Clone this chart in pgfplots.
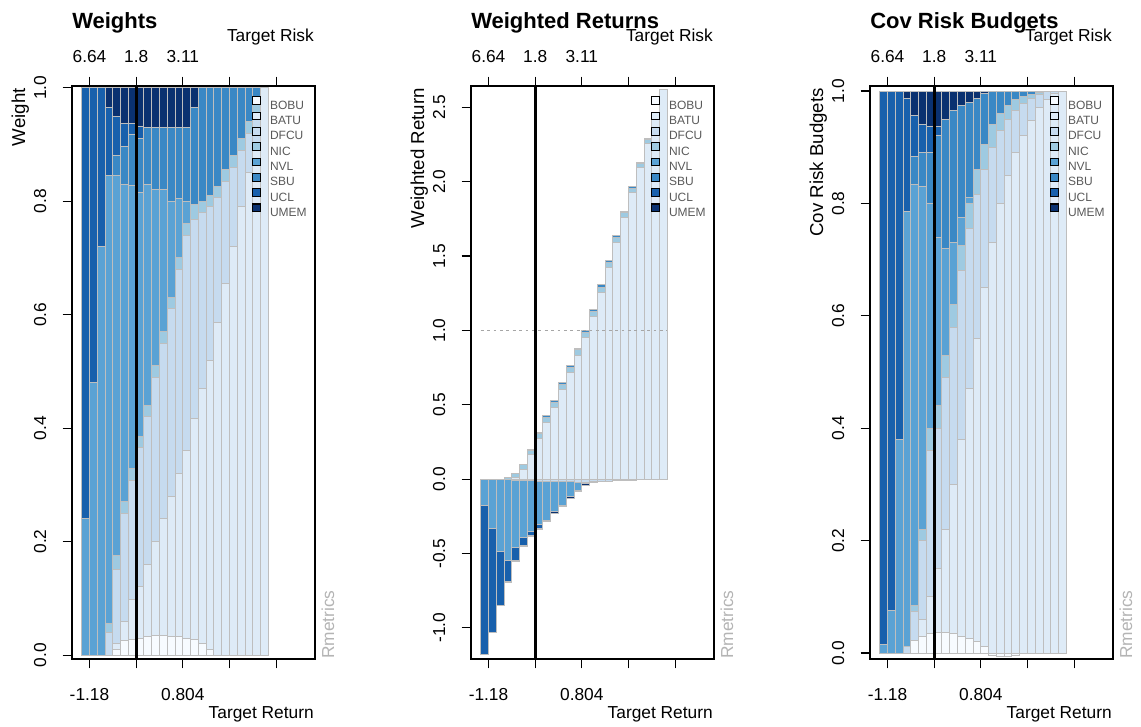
\documentclass[border=0pt]{standalone}
\usepackage{fontspec}
\setmainfont{Liberation Sans}
\usepackage{pgfplots}
\usepackage{pgfplotstable}
\pgfplotsset{compat=1.18}

\definecolor{cBOBU}{HTML}{F7FBFF}
\definecolor{cBATU}{HTML}{DEEBF7}
\definecolor{cDFCU}{HTML}{C6DBEF}
\definecolor{cNIC}{HTML}{9ECAE1}
\definecolor{cNVL}{HTML}{5AA2D4}
\definecolor{cSBU}{HTML}{3A88C5}
\definecolor{cUCL}{HTML}{1860AC}
\definecolor{cUMEM}{HTML}{0A3170}
\definecolor{barb}{HTML}{BEBEBE}
\definecolor{rmet}{HTML}{B4B4B4}

\newcommand\T[4][]{\node[#1] at ({(#2)*0.75pt},{-(#3)*0.75pt}) {#4};}
\newcommand\tf{\fontsize{13}{15}\selectfont}
\newcommand\ttl{\bfseries\fontsize{16.5}{18}\selectfont}
\newcommand\ylf{\fontsize{14}{16}\selectfont}
\newcommand\YT[3]{\T[rotate=90,anchor=base,inner sep=0pt,font=\tf]{#1}{#2}{#3}}
\newcommand\XT[3]{\T[anchor=base,inner sep=0pt,font=\tf]{#1}{#2}{#3}}

\pgfplotsset{
  legimg/.style={legend image code/.code={\draw[##1, draw=black, line width=0.85pt] (0pt,0.2pt) rectangle (5.8pt,6.0pt);}},
  base/.style={scale only axis, width=182.25pt, height=429.75pt, xmin=-1.25, xmax=30, anchor=south west},
  frame/.style={axis line style={line width=0.8pt}, tick style={line width=0.8pt, black},
    tick align=outside, major tick length=7pt, xtick={1,7,13,19,25}, xticklabels={}, yticklabels={},
    xtick pos=both, ytick pos=left, ybar stacked, bar width=1,
    every axis plot post/.append style={legimg},
    legend cell align=left,
    legend style={at={(0.740,0.982)}, anchor=north west, draw=none, fill=none, inner sep=0pt, outer sep=0pt,
      row sep=1.8pt, font=\fontsize{9}{10}\selectfont,
      nodes={inner sep=0pt, text height=6.5pt, text depth=0pt, text=black!65},
      /tikz/every odd column/.append style={column sep=7pt}}},
  over/.style={base, hide axis},
  bars/.style={draw=barb, line width=0.75pt},
}

% Weights
\pgfplotstableread{
x BOBU BATU DFCU NIC NVL SBU UCL UMEM
0.5 0 0 0 0 0.24 0 0.76 0
1.5 0 0 0 0 0.48 0 0.52 0
2.5 0 0 0 0 0.72 0 0.28 0
3.5 0 0 0.04 0.015 0.79 0 0.12 0.035
4.5 0.01 0.01 0.13 0.025 0.67 0.035 0.07 0.05
5.5 0.025 0.035 0.19 0.02 0.56 0.067 0.04 0.063
6.5 0.028 0.07 0.21 0.02 0.50 0.089 0.02 0.063
7.5 0.03 0.09 0.245 0.02 0.43 0.096 0.02 0.069
8.5 0.033 0.127 0.26 0.02 0.39 0.10 0 0.07
9.5 0.034 0.166 0.29 0.02 0.31 0.11 0 0.07
10.5 0.034 0.206 0.31 0.02 0.25 0.11 0 0.07
11.5 0.033 0.247 0.33 0.02 0.17 0.13 0 0.07
12.5 0.032 0.288 0.36 0.02 0.105 0.125 0 0.07
13.5 0.03 0.33 0.38 0.02 0.04 0.13 0 0.07
14.5 0.028 0.389 0.35 0.028 0 0.17 0 0.035
15.5 0.02 0.45 0.31 0.02 0 0.20 0 0
16.5 0.01 0.51 0.27 0.02 0 0.19 0 0
17.5 0 0.586 0.22 0.02 0 0.174 0 0
18.5 0 0.655 0.18 0.02 0 0.145 0 0
19.5 0 0.72 0.14 0.02 0 0.12 0 0
20.5 0 0.79 0.10 0.02 0 0.09 0 0
21.5 0 0.85 0.07 0.02 0 0.06 0 0
22.5 0 0.90 0.05 0.02 0 0.03 0 0
23.5 0 1.0 0 0 0 0 0 0
}\wtA

% Weighted returns, positive parts
\pgfplotstableread{
x BOBU BATU DFCU NIC NVL SBU UCL UMEM
0.5 0 0 0 0 0 0 0 0
1.5 0 0 0 0 0 0 0 0
2.5 0 0 0 0 0 0 0 0
3.5 0 0 0 0.01 0 0 0 0
4.5 0 0.01 0 0.025 0 0.002 0 0
5.5 0 0.065 0 0.03 0 0.005 0 0
6.5 0 0.162 0 0.03 0 0.008 0 0
7.5 0 0.273 0 0.032 0 0.01 0 0
8.5 0 0.38 0 0.034 0 0.011 0 0
9.5 0 0.484 0 0.034 0 0.012 0 0
10.5 0 0.602 0 0.034 0 0.012 0 0
11.5 0 0.719 0 0.034 0 0.012 0 0
12.5 0 0.834 0 0.034 0 0.012 0 0
13.5 0 0.954 0 0.034 0 0.012 0 0
14.5 0 1.093 0 0.034 0 0.013 0 0
15.5 0 1.257 0 0.034 0 0.014 0 0
16.5 0 1.423 0 0.034 0 0.013 0 0
17.5 0 1.589 0 0.034 0 0.012 0 0
18.5 0 1.758 0 0.032 0 0.010 0 0
19.5 0 1.927 0 0.030 0 0.008 0 0
20.5 0 2.094 0 0.030 0 0.006 0 0
21.5 0 2.258 0 0.028 0 0.004 0 0
22.5 0 2.433 0 0.020 0 0.002 0 0
23.5 0 2.62 0 0 0 0 0 0
}\wrP

% Weighted returns, negative parts
\pgfplotstableread{
x DFCU NVL UCL UMEM
0.5 0 -0.175 -1.005 0
1.5 0 -0.33 -0.70 0
2.5 0 -0.49 -0.357 0
3.5 -0.002 -0.543 -0.145 -0.004
4.5 -0.007 -0.453 -0.09 -0.006
5.5 -0.010 -0.382 -0.052 -0.008
6.5 -0.012 -0.342 -0.023 -0.009
7.5 -0.013 -0.29 -0.029 -0.010
8.5 -0.014 -0.262 0 -0.010
9.5 -0.016 -0.204 0 -0.010
10.5 -0.017 -0.158 0 -0.010
11.5 -0.018 -0.101 0 -0.011
12.5 -0.02 -0.054 0 -0.010
13.5 -0.02 -0.012 0 -0.010
14.5 -0.019 0 0 -0.005
15.5 -0.017 0 0 0
16.5 -0.015 0 0 0
17.5 -0.012 0 0 0
18.5 -0.01 0 0 0
19.5 -0.008 0 0 0
20.5 -0.005 0 0 0
21.5 -0.004 0 0 0
22.5 -0.002 0 0 0
23.5 0 0 0 0
}\wrN

% Cov risk budgets
\pgfplotstableread{
x BOBU BATU DFCU NIC NVL SBU UCL UMEM
0.5 0 0 0 0 0.015 0 0.985 0
1.5 0 0 0 0 0.075 0 0.925 0
2.5 0 0 0 0 0.38 0 0.62 0
3.5 0 0 0.011 0 0.774 0 0.202 0.013
4.5 0.023 0 0.05 0.012 0.748 0.05 0.074 0.043
5.5 0.03 0.03 0.14 0.02 0.61 0.06 0.05 0.06
6.5 0.035 0.065 0.26 0.04 0.40 0.09 0.046 0.064
7.5 0.037 0.113 0.25 0.04 0.30 0.18 0.016 0.064
8.5 0.037 0.183 0.27 0.04 0.19 0.23 0 0.05
9.5 0.035 0.265 0.28 0.04 0.11 0.236 0 0.034
10.5 0.03 0.35 0.30 0.045 0.05 0.20 0 0.025
11.5 0.025 0.445 0.285 0.045 0.01 0.17 0 0.02
12.5 0.02 0.54 0.255 0.045 0 0.127 0 0.013
13.5 0.012 0.638 0.21 0.045 0 0.09 0 0.005
14.5 0 0.73 0.17 0.04 0 0.06 0 0
15.5 0 0.80 0.13 0.03 0 0.04 0 0
16.5 0 0.85 0.10 0.025 0 0.025 0 0
17.5 0 0.89 0.075 0.02 0 0.015 0 0
18.5 0 0.92 0.058 0.012 0 0.01 0 0
19.5 0 0.947 0.04 0.007 0 0.006 0 0
20.5 0 0.97 0.024 0.003 0 0.003 0 0
21.5 0 0.985 0.015 0 0 0 0 0
22.5 0 0.995 0.005 0 0 0 0 0
23.5 0 1 0 0 0 0 0 0
}\crP

\pgfplotstableread{
x BOBU
12.5 0
13.5 0
14.5 -0.005
15.5 -0.007
16.5 -0.007
17.5 -0.005
18.5 0
}\crN

\newcommand\posbars[1]{%
\addplot[bars, fill=cBOBU] table[x=x,y=BOBU]{#1}; \addlegendentry{BOBU}
\addplot[bars, fill=cBATU] table[x=x,y=BATU]{#1}; \addlegendentry{BATU}
\addplot[bars, fill=cDFCU] table[x=x,y=DFCU]{#1}; \addlegendentry{DFCU}
\addplot[bars, fill=cNIC] table[x=x,y=NIC]{#1}; \addlegendentry{NIC}
\addplot[bars, fill=cNVL] table[x=x,y=NVL]{#1}; \addlegendentry{NVL}
\addplot[bars, fill=cSBU] table[x=x,y=SBU]{#1}; \addlegendentry{SBU}
\addplot[bars, fill=cUCL] table[x=x,y=UCL]{#1}; \addlegendentry{UCL}
\addplot[bars, fill=cUMEM] table[x=x,y=UMEM]{#1}; \addlegendentry{UMEM}
}

\begin{document}
\begin{tikzpicture}
\path[use as bounding box] (0,0) rectangle (855.75pt,-544.5pt);

% ---------------- Panel 1: Weights
\begin{axis}[base, frame, at={(54pt,-494.25pt)}, ymin=-0.007, ymax=1.003, ytick={0,0.2,0.4,0.6,0.8,1}]
\posbars{\wtA}
\end{axis}
\begin{axis}[over, at={(54pt,-494.25pt)}, ymin=-0.007, ymax=1.003]
\addplot[black, line width=2.3pt] coordinates {(7,-0.007) (7,1.003)};
\end{axis}

% ---------------- Panel 2: Weighted Returns
\begin{axis}[base, frame, at={(353.25pt,-494.25pt)}, ymin=-1.21, ymax=2.643, ytick={-1,-0.5,0,0.5,1,1.5,2,2.5}]
\posbars{\wrP}
\end{axis}
\begin{axis}[over, at={(353.25pt,-494.25pt)}, ymin=-1.21, ymax=2.643, ybar stacked, bar width=1]
\addplot[bars, fill=cDFCU] table[x=x,y=DFCU]{\wrN};
\addplot[bars, fill=cNVL] table[x=x,y=NVL]{\wrN};
\addplot[bars, fill=cUCL] table[x=x,y=UCL]{\wrN};
\addplot[bars, fill=cUMEM] table[x=x,y=UMEM]{\wrN};
\end{axis}
\begin{axis}[over, at={(353.25pt,-494.25pt)}, ymin=-1.21, ymax=2.643]
\addplot[color=black!35, line width=0.75pt, dash pattern=on 2.2pt off 2.6pt] coordinates {(0,1) (24,1)};
\addplot[black, line width=2.3pt] coordinates {(7,-1.21) (7,2.643)};
\end{axis}

% ---------------- Panel 3: Cov Risk Budgets
\begin{axis}[base, frame, at={(652.5pt,-494.25pt)}, ymin=-0.0107, ymax=1.0089, ytick={0,0.2,0.4,0.6,0.8,1}]
\posbars{\crP}
\end{axis}
\begin{axis}[over, at={(652.5pt,-494.25pt)}, ymin=-0.0107, ymax=1.0089, ybar stacked, bar width=1]
\addplot[bars, fill=cBOBU] table[x=x,y=BOBU]{\crN};
\end{axis}
\begin{axis}[over, at={(652.5pt,-494.25pt)}, ymin=-0.0107, ymax=1.0089]
\addplot[black, line width=2.3pt] coordinates {(7,-0.0107) (7,1.0089)};
\end{axis}

% ---------------- texts panel 1
\T[anchor=base west,inner sep=0pt,font=\ttl]{72}{28}{Weights}
\T[anchor=base east,inner sep=0pt,font=\tf]{314}{41.5}{Target Risk}
\XT{89.5}{62}{6.64}\XT{136.2}{62}{1.8}\XT{182.8}{62}{3.11}
\XT{89.5}{700}{-1.18}\XT{182.8}{700}{0.804}
\T[anchor=base east,inner sep=0pt,font=\tf]{314}{718}{Target Return}
\YT{46}{655.0}{0.0}\YT{46}{541.5}{0.2}\YT{46}{428.1}{0.4}\YT{46}{314.6}{0.6}\YT{46}{201.2}{0.8}\YT{46}{87.7}{1.0}
\T[rotate=90,anchor=base east,inner sep=0pt,font=\ylf]{25}{88}{Weight}
\T[rotate=90,anchor=base west,inner sep=0pt,font=\tf,text=rmet]{334}{659}{Rmetrics}

% ---------------- texts panel 2
\T[anchor=base west,inner sep=0pt,font=\ttl]{471}{28}{Weighted Returns}
\T[anchor=base east,inner sep=0pt,font=\tf]{713}{41.5}{Target Risk}
\XT{488.5}{62}{6.64}\XT{535.2}{62}{1.8}\XT{581.8}{62}{3.11}
\XT{488.5}{700}{-1.18}\XT{581.8}{700}{0.804}
\T[anchor=base east,inner sep=0pt,font=\tf]{713}{718}{Target Return}
\YT{445}{627.8}{-1.0}\YT{445}{553.5}{-0.5}\YT{445}{479.1}{0.0}\YT{445}{404.8}{0.5}\YT{445}{330.4}{1.0}\YT{445}{256.1}{1.5}\YT{445}{181.7}{2.0}\YT{445}{107.4}{2.5}
\T[rotate=90,anchor=base east,inner sep=0pt,font=\ylf]{424}{88}{Weighted Return}
\T[rotate=90,anchor=base west,inner sep=0pt,font=\tf,text=rmet]{733}{659}{Rmetrics}

% ---------------- texts panel 3
\T[anchor=base west,inner sep=0pt,font=\ttl]{870}{28}{Cov Risk Budgets}
\T[anchor=base east,inner sep=0pt,font=\tf]{1112}{41.5}{Target Risk}
\XT{887.5}{62}{6.64}\XT{934.2}{62}{1.8}\XT{980.8}{62}{3.11}
\XT{887.5}{700}{-1.18}\XT{980.8}{700}{0.804}
\T[anchor=base east,inner sep=0pt,font=\tf]{1112}{718}{Target Return}
\YT{844}{653.0}{0.0}\YT{844}{540.6}{0.2}\YT{844}{428.2}{0.4}\YT{844}{315.8}{0.6}\YT{844}{203.4}{0.8}\YT{844}{91.0}{1.0}
\T[rotate=90,anchor=base east,inner sep=0pt,font=\ylf]{823}{88}{Cov Risk Budgets}
\T[rotate=90,anchor=base west,inner sep=0pt,font=\tf,text=rmet]{1132}{659}{Rmetrics}
\end{tikzpicture}
\end{document}
